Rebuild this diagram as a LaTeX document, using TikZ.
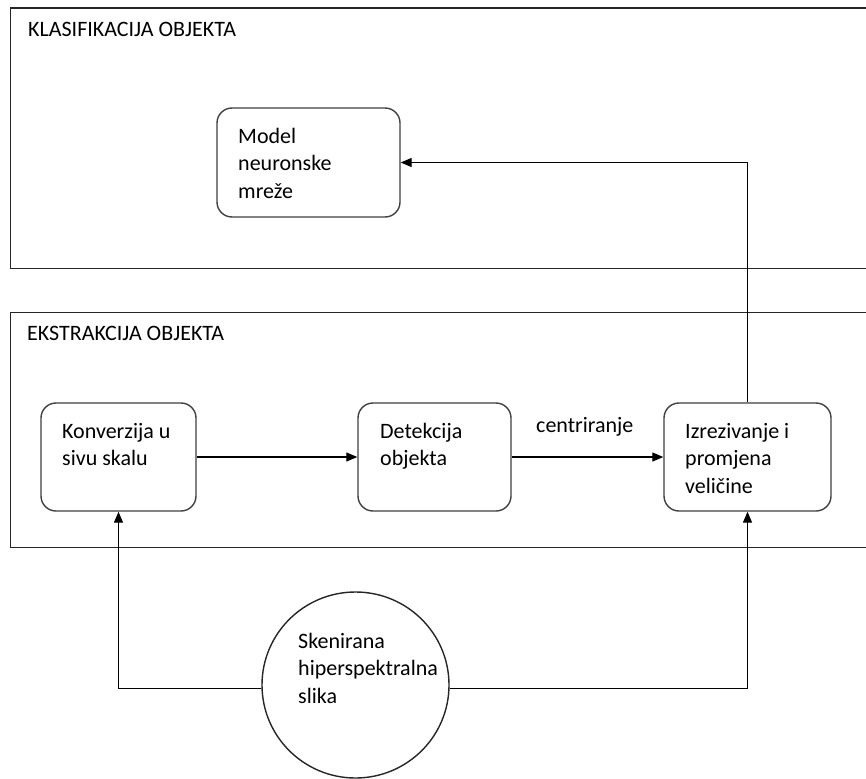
\documentclass[tikz,border=0pt]{standalone}
\usepackage{fontspec}
\setmainfont{Carlito}
\usetikzlibrary{arrows.meta,shapes.geometric}
\newcommand{\mylines}[1]{\parbox[t]{220pt}{\raggedright #1}}
\tikzset{
  frame/.style={draw=black!85, line width=1.6pt},
  stepbox/.style={draw=black!75, line width=1.4pt, rounded corners=15pt, inner sep=0pt, fill=white},
  txt/.style={anchor=base west, inner sep=0pt, font=\fontsize{22}{27.5}\selectfont, text=black},
  conn/.style={draw=black, line width=1.3pt},
  arr/.style={conn, -{Triangle[length=11pt,width=9pt]}}
}
\begin{document}
\begin{tikzpicture}[x=1pt,y=-1pt]
\useasboundingbox (0,0) rectangle (866,778);
\fill[white] (0,0) rectangle (866,778);
\clip (0,0) rectangle (866,778);
% frames
\draw[frame] (880,8) -- (10.5,8) -- (10.5,268.5) -- (880,268.5);
\draw[frame] (880,312.5) -- (10.5,312.5) -- (10.5,547.5) -- (880,547.5);
\node[txt] (tklas) at (28,37) {KLASIFIKACIJA OBJEKTA};
\node[txt] (tekst) at (27,340) {EKSTRAKCIJA OBJEKTA};
% boxes
\node[stepbox, minimum width=183pt, minimum height=109pt] (model) at (308.5,162.5) {};
\node[stepbox, minimum width=155pt, minimum height=108pt] (konv) at (118.5,457) {};
\node[stepbox, minimum width=153pt, minimum height=108pt] (det) at (434.5,457) {};
\node[stepbox, minimum width=167pt, minimum height=108pt] (izr) at (747.5,457) {};
\node[draw=black!85, line width=1.4pt, fill=white, ellipse, inner sep=0pt, minimum width=187pt, minimum height=186pt] (ell) at (355.5,685) {};
% texts
\node[txt] (tmodel) at (238,143) {\mylines{Model\\neuronske\\mreže}};
\node[txt] (tkonv) at (62,438) {\mylines{Konverzija u\\sivu skalu}};
\node[txt] (tdet) at (380,438) {\mylines{Detekcija\\objekta}};
\node[txt] (tizr) at (685,438) {\mylines{Izrezivanje i\\promjena\\veličine}};
\node[txt] (tell) at (298,648) {\mylines{Skenirana\\hiperspektralna\\slika}};
\node[txt] (tcen) at (536,432) {centriranje};
% connectors
\draw[arr] (konv.east) -- (det.west);
\draw[arr] (det.east) -- (izr.west);
\draw[arr] (izr.north) |- (model.east);
\draw[arr] (ell.182) -| (konv.south);
\draw[arr] (ell.-2) -| (izr.south);
\end{tikzpicture}
\end{document}
